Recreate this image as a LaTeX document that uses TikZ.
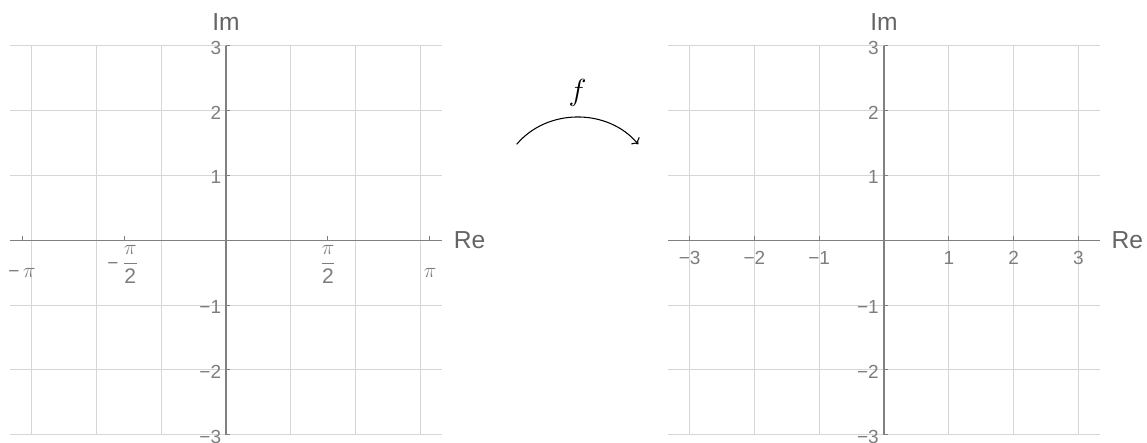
\documentclass[tikz,border=0pt]{standalone}
\usepackage{amsmath}
\usepackage{fontspec}
\setmainfont{Liberation Sans}
\usepackage{tikz}
\usetikzlibrary{arrows.meta}
\definecolor{gridgray}{RGB}{214,214,214}
\definecolor{axisgray}{RGB}{128,128,128}
\definecolor{tickgray}{RGB}{125,125,125}
\definecolor{namegray}{RGB}{100,100,100}

\begin{document}
\begin{tikzpicture}[x=1.296cm, y=1.296cm,
  gridline/.style={gridgray, line width=0.55pt},
  axisline/.style={axisgray, line width=0.8pt},
  tickmark/.style={axisgray, line width=0.5pt},
  ticklab/.style={tickgray, inner sep=0pt, font=\fontsize{10.8}{12}\selectfont},
  pilab/.style={ticklab, font=\fontsize{12}{14}\selectfont},
  axislab/.style={namegray, inner sep=0pt, font=\fontsize{14}{16}\selectfont}]
\useasboundingbox (-3.488,-3.128) rectangle (14.213,3.708);
% ---- left plane: the z-plane, real axis marked in multiples of pi/2
\draw[gridline, step={(1,1)}] (-3.33,-3) grid (3.33,3);
\draw[axisline] (-3.33,0) -- (3.33,0);
\draw[axisline] (0,-3) -- (0,3);
\foreach \v in {-3.1416,-1.5708,1.5708,3.1416}
  \draw[tickmark] (\v,0) -- (\v,0.062);
\foreach \v in {-3,-2,-1,1,2,3}
  \draw[tickmark] (0,\v) -- (0.062,\v);
\foreach \v/\t [count=\n] in {3/3,2/2,1/1,-1/−1,-2/−2,-3/−3}
  \node[ticklab, anchor=east] (zy\n) at (-0.07,\v-0.03) {\t};
\node[pilab] (zxa) at (-3.148,-0.5) {{\fontsize{10.8}{12}\selectfont−}\,$\pi$};
\node[pilab, anchor=north] (zxb) at (-1.59,-0.08) {{\fontsize{10.8}{12}\selectfont−}\,$\dfrac{\pi}{\text{2}}$};
\node[pilab, anchor=north] (zxc) at (1.574,-0.08) {$\dfrac{\pi}{\text{2}}$};
\node[pilab] (zxd) at (3.148,-0.5) {$\pi$};
\node[axislab] (zim) at (0,3.37) {Im};
\node[axislab] (zre) at (3.758,0) {Re};
% ---- the map
\coordinate (fsrc) at (4.486,1.481);
\coordinate (fdst) at (6.363,1.481);
\draw[-{To}, line width=0.6pt] (fsrc) to[bend left=50]
  node[midway, above=6pt, inner sep=0pt, font=\fontsize{16.5}{18}\selectfont] (flab) {$f$} (fdst);
% ---- right plane: the w-plane, integer ticks
\begin{scope}[shift={(10.154,0)}]
\draw[gridline, step={(1,1)}] (-3.33,-3) grid (3.33,3);
\draw[axisline] (-3.33,0) -- (3.33,0);
\draw[axisline] (0,-3) -- (0,3);
\foreach \v in {-3,-2,-1,1,2,3} {
  \draw[tickmark] (\v,0) -- (\v,0.062);
  \draw[tickmark] (0,\v) -- (0.062,\v);
}
\foreach \v/\t [count=\n] in {3/3,2/2,1/1,-1/−1,-2/−2,-3/−3}
  \node[ticklab, anchor=east] (wy\n) at (-0.077,\v-0.03) {\t};
\foreach \v/\t [count=\n] in {-3/−3,-2/−2,-1/−1,1/1,2/2,3/3}
  \node[ticklab] (wx\n) at (\v,-0.27) {\t};
\node[axislab] (wim) at (0,3.37) {Im};
\node[axislab] (wre) at (3.757,0) {Re};
\end{scope}
\end{tikzpicture}
\end{document}
